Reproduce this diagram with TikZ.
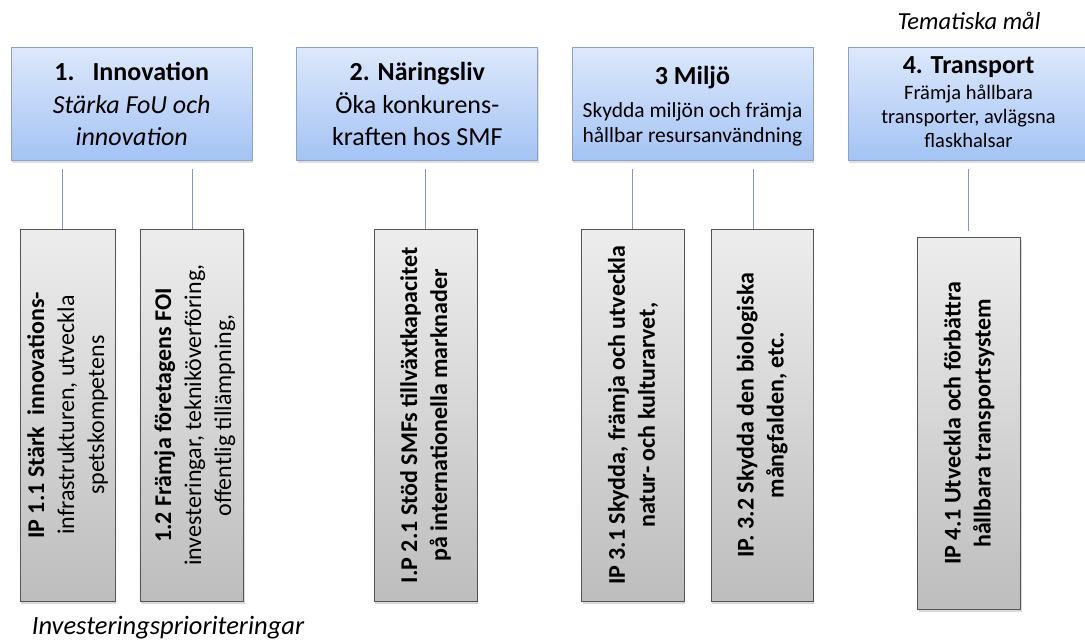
\documentclass[tikz,border=0pt]{standalone}
\usepackage{fontspec}
\setmainfont{Carlito}
\usetikzlibrary{shadows}
\definecolor{topA}{HTML}{DDE8FB}
\definecolor{topB}{HTML}{A3C3F4}
\definecolor{topborder}{HTML}{8DA2C4}
\definecolor{botA}{HTML}{EDEDED}
\definecolor{botB}{HTML}{BDBDBD}
\definecolor{botborder}{HTML}{555555}
\definecolor{connc}{HTML}{7E9DBE}
\tikzset{
  topbox/.style={draw=topborder, line width=0.9pt, top color=topA, bottom color=topB,
    minimum width=241pt, minimum height=113.4pt, inner sep=0pt,
    drop shadow={opacity=0.25, shadow xshift=1pt, shadow yshift=-2.5pt}},
  toptext/.style={align=center, inner sep=0pt},
  botbox/.style={draw=botborder, line width=0.9pt, top color=botA, bottom color=botB,
    inner sep=0pt, drop shadow={opacity=0.3, shadow xshift=1pt, shadow yshift=-2.5pt}},
  vtext/.style={rotate=90, align=center, inner sep=0pt, font=\fontsize{24}{30}\selectfont},
  conn/.style={draw=connc, line width=0.9pt},
  bigf/.style={font=\fontsize{26}{32.5}\selectfont},
  label/.style={font=\fontsize{24.5}{29}\selectfont\itshape, inner sep=0pt},
}
\begin{document}
\begin{tikzpicture}[x=1pt,y=-1pt]
\useasboundingbox (0,0) rectangle (1085,642);
\begin{scope}
\clip (0,0) rectangle (1085,642);
% top boxes
\node[topbox] (t1) at (131.7,104) {};
\node[topbox] (t2) at (417.3,104) {};
\node[topbox] (t3) at (692.5,104) {};
\node[topbox] (t4) at (968.5,104) {};
\end{scope}
\node[toptext, bigf] (t1txt) at (t1.center) {\textbf{1.\hspace{18pt}Innovation}\\ \textit{Stärka FoU och}\\ \textit{innovation}};
\node[toptext, bigf] (t2txt) at (t2.center) {\textbf{2. Näringsliv}\\ Öka konkurens-\\ kraften hos SMF};
\node[toptext, font=\fontsize{21.5}{25}\selectfont] (t3txt) at (692.5,106) {{\fontsize{26}{25}\selectfont\textbf{3 Miljö}}\\[8pt] Skydda miljön och främja\\ hållbar resursanvändning};
\node[toptext, font=\fontsize{20.5}{24}\selectfont] (t4txt) at (968.5,102) {{\fontsize{26}{24}\selectfont\textbf{4. Transport}}\\[1.5pt] Främja hållbara\\ transporter, avlägsna\\ flaskhalsar};
\node[label] (tm) at (969,21) {Tematiska mål};
% bottom boxes
\node[botbox, minimum width=95pt, minimum height=371.7pt] (b11) at (67.5,415.2) {};
\node[botbox, minimum width=103.7pt, minimum height=371.7pt] (b12) at (191.8,415.2) {};
\node[botbox, minimum width=103pt, minimum height=371.7pt] (b21) at (425.5,415.2) {};
\node[botbox, minimum width=102.6pt, minimum height=371.7pt] (b31) at (633,415.2) {};
\node[botbox, minimum width=102pt, minimum height=371.7pt] (b32) at (762.3,415.2) {};
\node[botbox, minimum width=103pt, minimum height=372pt] (b41) at (969.2,423.3) {};
\node[vtext] (v11) at (b11.center) {\textbf{IP 1.1 Stärk\ \ innovations-}\\ infrastrukturen, utveckla\\ spetskompetens};
\node[vtext] (v12) at ([xshift=3pt]b12.center) {\textbf{1.2 Främja företagens FOI}\\ investeringar, teknik\"overföring,\\ offentlig tillämpning,};
\node[vtext] (v21) at (b21.center) {\textbf{I.P 2.1 Stöd SMFs tillväxtkapacitet}\\ \textbf{på internationella marknader}};
\node[vtext] (v31) at (b31.center) {\textbf{IP 3.1 Skydda, främja och utveckla}\\ \textbf{natur- och kulturarvet,}};
\node[vtext] (v32) at (b32.center) {\textbf{IP. 3.2 Skydda den biologiska}\\ \textbf{mångfalden, etc.}};
\node[vtext] (v41) at (b41.center) {\textbf{IP 4.1 Utveckla och förbättra}\\ \textbf{hållbara transportsystem}};
% connectors
\coordinate (c11) at (62.7,169);
\coordinate (c12) at (192.3,169);
\coordinate (c21) at (425,169);
\coordinate (c31) at (632.7,169);
\coordinate (c32) at (753.3,169);
\coordinate (c41) at (968.3,169);
\coordinate (e41) at (968.3,231);
\draw[conn] (c11) -- (c11 |- b11.north);
\draw[conn] (c12) -- (c12 |- b12.north);
\draw[conn] (c21) -- (c21 |- b21.north);
\draw[conn] (c31) -- (c31 |- b31.north);
\draw[conn] (c32) -- (c32 |- b32.north);
\draw[conn] (c41) -- (e41);
\node[label, font=\fontsize{26.5}{30}\selectfont\itshape, anchor=base west] (ip) at (31.7,634) {Investeringsprioriteringar};
\end{tikzpicture}
\end{document}
